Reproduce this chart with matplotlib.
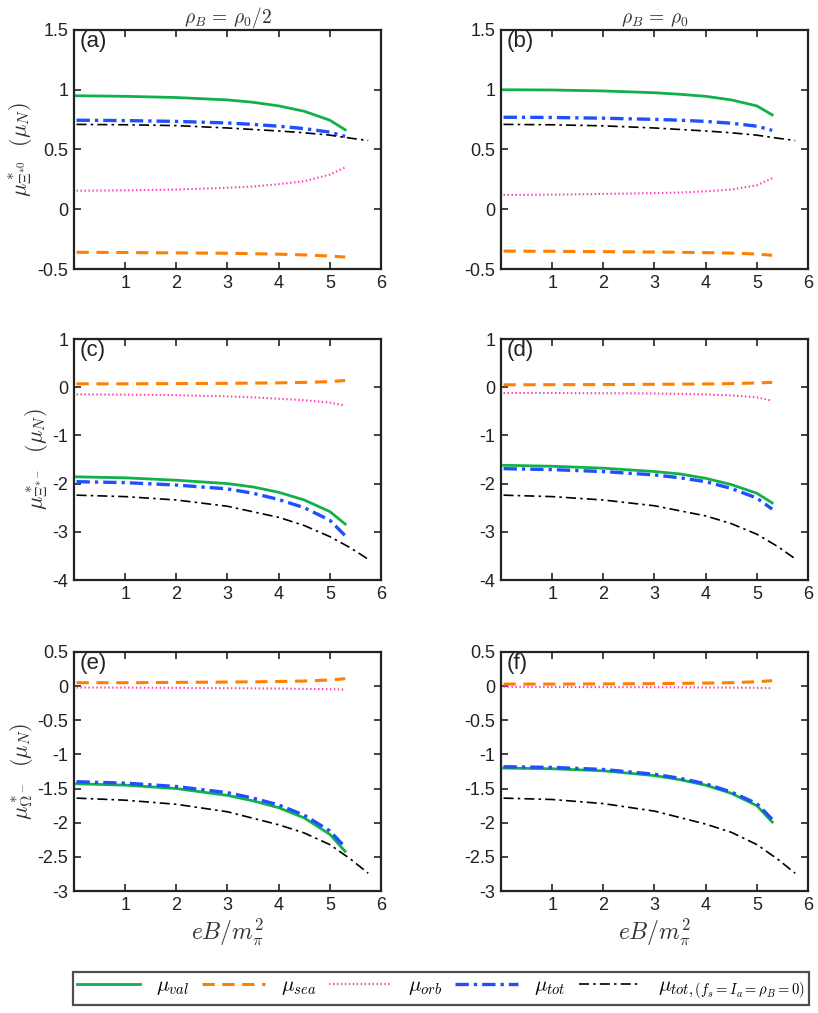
import matplotlib
matplotlib.use('Agg')
import matplotlib.pyplot as plt

plt.rcParams['font.family'] = ['Liberation Sans', 'DejaVu Sans']
plt.rcParams['mathtext.fontset'] = 'cm'

# eB/m_pi^2 sample points
x = [0.05, 1, 2, 3, 3.5, 4, 4.5, 5, 5.3]
x_bl = [0.05, 1, 2, 3, 4, 4.5, 5, 5.4, 5.75]

# (a) Xi*0, rho_B = rho_0/2
a_val = [0.95, 0.945, 0.935, 0.915, 0.895, 0.865, 0.82, 0.745, 0.665]
a_sea = [-0.36, -0.362, -0.365, -0.368, -0.372, -0.376, -0.382, -0.392, -0.40]
a_orb = [0.155, 0.158, 0.165, 0.18, 0.19, 0.21, 0.235, 0.29, 0.35]
a_tot = [0.745, 0.742, 0.735, 0.722, 0.71, 0.695, 0.675, 0.645, 0.61]
a_bl = [0.71, 0.707, 0.70, 0.68, 0.655, 0.64, 0.62, 0.595, 0.575]

# (b) Xi*0, rho_B = rho_0
b_val = [1.0, 0.998, 0.99, 0.975, 0.962, 0.945, 0.915, 0.865, 0.79]
b_sea = [-0.35, -0.352, -0.355, -0.358, -0.36, -0.363, -0.367, -0.375, -0.385]
b_orb = [0.12, 0.122, 0.128, 0.135, 0.14, 0.15, 0.165, 0.2, 0.26]
b_tot = [0.77, 0.768, 0.762, 0.752, 0.745, 0.735, 0.72, 0.695, 0.66]
b_bl = [0.71, 0.707, 0.698, 0.68, 0.655, 0.64, 0.62, 0.595, 0.575]

# (c) Xi*-, rho_B = rho_0/2
c_val = [-1.86, -1.88, -1.93, -2.0, -2.07, -2.18, -2.34, -2.58, -2.84]
c_sea = [0.07, 0.07, 0.075, 0.08, 0.085, 0.09, 0.1, 0.115, 0.14]
c_orb = [-0.15, -0.155, -0.165, -0.19, -0.21, -0.24, -0.27, -0.32, -0.38]
c_tot = [-1.96, -1.98, -2.03, -2.11, -2.2, -2.33, -2.5, -2.76, -3.08]
c_bl = [-2.24, -2.27, -2.34, -2.47, -2.7, -2.87, -3.1, -3.33, -3.57]

# (d) Xi*-, rho_B = rho_0
d_val = [-1.62, -1.64, -1.68, -1.75, -1.8, -1.89, -2.02, -2.2, -2.40]
d_sea = [0.05, 0.052, 0.055, 0.06, 0.063, 0.067, 0.075, 0.088, 0.1]
d_orb = [-0.12, -0.12, -0.125, -0.13, -0.14, -0.15, -0.17, -0.21, -0.28]
d_tot = [-1.69, -1.71, -1.75, -1.82, -1.88, -1.96, -2.1, -2.3, -2.53]
d_bl = [-2.24, -2.27, -2.34, -2.46, -2.67, -2.83, -3.05, -3.3, -3.56]

# (e) Omega-, rho_B = rho_0/2
e_val = [-1.43, -1.45, -1.5, -1.6, -1.68, -1.78, -1.93, -2.17, -2.42]
e_sea = [0.05, 0.05, 0.055, 0.06, 0.063, 0.068, 0.075, 0.09, 0.11]
e_orb = [-0.02, -0.022, -0.025, -0.03, -0.032, -0.035, -0.04, -0.045, -0.05]
e_tot = [-1.40, -1.42, -1.47, -1.56, -1.64, -1.74, -1.89, -2.12, -2.36]
e_bl = [-1.64, -1.67, -1.73, -1.84, -2.03, -2.15, -2.32, -2.53, -2.74]

# (f) Omega-, rho_B = rho_0
f_val = [-1.2, -1.21, -1.24, -1.31, -1.37, -1.45, -1.57, -1.75, -1.99]
f_sea = [0.03, 0.03, 0.033, 0.037, 0.04, 0.045, 0.05, 0.065, 0.08]
f_orb = [-0.01, -0.012, -0.014, -0.016, -0.018, -0.02, -0.022, -0.025, -0.03]
f_tot = [-1.18, -1.19, -1.22, -1.29, -1.35, -1.43, -1.55, -1.72, -1.95]
f_bl = [-1.64, -1.66, -1.72, -1.83, -2.02, -2.14, -2.32, -2.53, -2.74]

panels = [
    ('(a)', a_val, a_sea, a_orb, a_tot, a_bl, (-0.5, 1.5), [-0.5, 0, 0.5, 1, 1.5], ['-0.5', '0', '0.5', '1', '1.5']),
    ('(b)', b_val, b_sea, b_orb, b_tot, b_bl, (-0.5, 1.5), [-0.5, 0, 0.5, 1, 1.5], ['-0.5', '0', '0.5', '1', '1.5']),
    ('(c)', c_val, c_sea, c_orb, c_tot, c_bl, (-4, 1), [-4, -3, -2, -1, 0, 1], ['-4', '-3', '-2', '-1', '0', '1']),
    ('(d)', d_val, d_sea, d_orb, d_tot, d_bl, (-4, 1), [-4, -3, -2, -1, 0, 1], ['-4', '-3', '-2', '-1', '0', '1']),
    ('(e)', e_val, e_sea, e_orb, e_tot, e_bl, (-3, 0.5), [-3, -2.5, -2, -1.5, -1, -0.5, 0, 0.5],
     ['-3', '-2.5', '-2', '-1.5', '-1', '-0.5', '0', '0.5']),
    ('(f)', f_val, f_sea, f_orb, f_tot, f_bl, (-3, 0.5), [-3, -2.5, -2, -1.5, -1, -0.5, 0, 0.5],
     ['-3', '-2.5', '-2', '-1.5', '-1', '-0.5', '0', '0.5']),
]

ylabels = [r'$\mu^*_{\Xi^{*0}}\ \ (\mu_N)$', r'$\mu^*_{\Xi^{*-}}\ \ (\mu_N)$', r'$\mu^*_{\Omega^-}\ \ (\mu_N)$']
titles = [r'$\rho_B\,=\,\rho_0/2$', r'$\rho_B\,=\,\rho_0$']
xticks = [1, 2, 3, 4, 5, 6]

green = '#12b04a'
orange = '#ff8000'
pink = '#ff3fb4'
blue = '#1f4fff'

W, H = 818, 1013
fig = plt.figure(figsize=(W / 100, H / 100), dpi=100)

lefts = [74, 501]
tops = [30, 339, 652]
bottoms = [269, 580, 891]

lines = None
for i, (lab, val, sea, orb, tot, bl, ylim, yt, ytl) in enumerate(panels):
    r, c = i // 2, i % 2
    l = lefts[c]
    ax = fig.add_axes([l / W, 1 - bottoms[r] / H, 307 / W, (bottoms[r] - tops[r]) / H])
    l1, = ax.plot(x, val, color=green, lw=2.0, label=r'$\mu_{val}$')
    l2, = ax.plot(x, sea, color=orange, lw=2.2, ls=(0, (4, 2.5)), label=r'$\mu_{sea}$')
    l3, = ax.plot(x, orb, color=pink, lw=1.5, ls=(0, (0.7, 1.2)), label=r'$\mu_{orb}$')
    l4, = ax.plot(x, tot, color=blue, lw=2.4, ls=(0, (4, 1.5, 1, 1.5)), label=r'$\mu_{tot}$')
    l5, = ax.plot(x_bl, bl, color='black', lw=1.2, ls=(0, (6, 2.5, 1.5, 2.5)),
                  label=r'$\mu_{tot,(f_s=I_a=\rho_B=0)}$')
    lines = [l1, l2, l3, l4, l5]
    ax.set_xlim(0, 6)
    ax.set_ylim(*ylim)
    ax.set_xticks(xticks)
    ax.set_yticks(yt)
    ax.set_yticklabels(ytl)
    ax.tick_params(direction='in', top=True, right=True, length=5, width=1.2,
                   labelsize=13, colors='#222222', pad=4)
    for s in ax.spines.values():
        s.set_linewidth(1.6)
        s.set_color('#222222')
    ax.text(0.018, 0.995, lab, transform=ax.transAxes, fontsize=16, va='top', ha='left', color='#222222')
    if c == 0:
        ax.set_ylabel(ylabels[r], fontsize=16, color='#333333', labelpad=2)
    if r == 0:
        ax.set_title(titles[c], fontsize=14, color='#333333', pad=5)
    if r == 2:
        ax.set_xlabel(r'$eB/m_\pi^2$', fontsize=17, color='#333333', labelpad=2)

leg = fig.legend(handles=lines, loc='lower left', ncol=5, fontsize=15,
                 bbox_to_anchor=(73 / W, 8 / H, 736 / W, 32 / H), mode='expand',
                 frameon=True, fancybox=False, handlelength=3.0, borderaxespad=0,
                 borderpad=0.2, columnspacing=1.0, handletextpad=0.8)
leg.get_frame().set_edgecolor('#222222')
leg.get_frame().set_linewidth(1.6)

fig.savefig('out.png', dpi=100)
